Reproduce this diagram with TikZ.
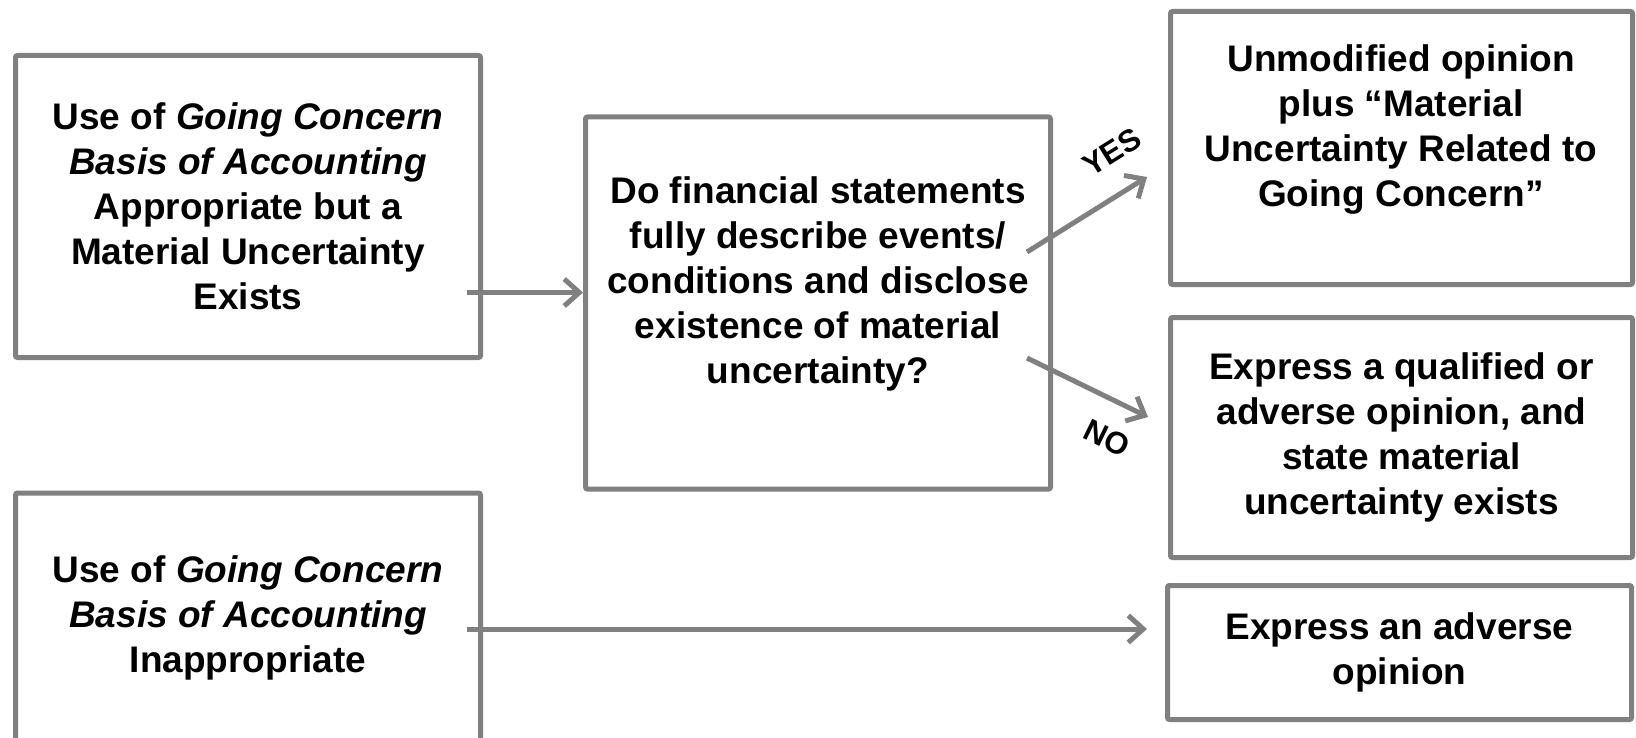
\documentclass[tikz,border=0pt]{standalone}
\usepackage{fontspec}
\setmainfont{Liberation Sans}
\usetikzlibrary{arrows.meta}
\definecolor{boxgray}{RGB}{128,128,128}
\begin{document}
\begin{tikzpicture}[x=1pt,y=-1pt,
  box/.style={draw=boxgray, line width=5pt, rounded corners=2pt, inner sep=0pt,
    align=center, font=\bfseries\fontsize{37}{45}\selectfont},
  txt/.style={align=center, inner sep=0pt, font=\bfseries\fontsize{37}{45}\selectfont},
  arr/.style={draw=boxgray, line width=5pt, -{Straight Barb[length=15pt,width=27pt,line width=5pt]}},
  lbl/.style={inner sep=0pt, font=\bfseries\fontsize{31}{34}\selectfont}]
\useasboundingbox (0,0) rectangle (1636,738);
\clip (0,0) rectangle (1636,738);
\node[box, minimum width=465pt, minimum height=302pt] (b1) at (248,206.5)
  {Use of \textit{Going Concern}\\\textit{Basis of Accounting}\\Appropriate but a\\Material Uncertainty\\Exists};
\node[box, minimum width=465pt, minimum height=372pt] (b2) at (818,303) {};
\node[txt] (t2) at (818,284) {Do financial statements\\fully describe events/\\conditions and disclose\\existence of material\\uncertainty?};
\node[box, minimum width=462pt, minimum height=273pt] (b3) at (1401.5,148) {};
\node[txt] (t3) at (1401,130) {Unmodified opinion\\plus “Material\\Uncertainty Related to\\Going Concern”};
\node[box, minimum width=462pt, minimum height=240pt] (b4) at (1401.5,437.5)
  {Express a qualified or\\adverse opinion, and\\state material\\uncertainty exists};
\node[box, minimum width=465pt, minimum height=250pt] (b5) at (248,618)
  {Use of \textit{Going Concern}\\\textit{Basis of Accounting}\\Inappropriate};
\node[box, minimum width=464pt, minimum height=134pt] (b6) at (1399.5,652.5)
  {Express an adverse\\opinion};
\draw[arr] ([xshift=-16pt,yshift=-86pt]b1.east) -- ([yshift=10.5pt]b2.west);
\draw[arr] ([xshift=-16pt,yshift=-11pt]b5.east) -- ([xshift=-18pt,yshift=23.5pt]b6.west);
\draw[arr] ([xshift=-26pt,yshift=51pt]b2.east) -- ([xshift=-21pt,yshift=-29pt]b3.west);
\draw[arr] ([xshift=-26pt,yshift=-55pt]b2.east) -- ([xshift=-20pt,yshift=20.5pt]b4.west);
\node[lbl, rotate=32] (yes) at (1112,152) {YES};
\node[lbl, rotate=-26] (no) at (1107,438) {NO};
\end{tikzpicture}
\end{document}
